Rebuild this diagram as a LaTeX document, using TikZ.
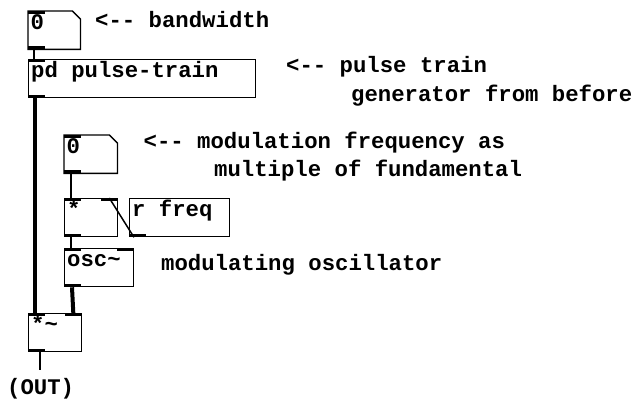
\documentclass[tikz,border=0pt]{standalone}
\usepackage{fontspec}
\setmainfont{Liberation Mono}
\newfontfamily\pdfont{Liberation Mono}[WordSpace={1,0,0}]
\usetikzlibrary{calc}
\newcommand\pdlabel[2]{\makebox[#1][l]{#2}}
\tikzset{
  pdtext/.style={font=\pdfont\bfseries\fontsize{22.3}{26}\selectfont},
  objbox/.style={pdtext, draw, line width=1.3pt, anchor=north west, inner xsep=2.5pt, inner ysep=0pt, text height=18pt, text depth=20pt},
  numbox/.style={pdtext, anchor=north west, inner xsep=2.5pt, inner ysep=0pt, text height=18pt, text depth=20pt},
  numoutline/.style={line width=1.3pt},
  comment/.style={pdtext, anchor=base west, inner sep=0pt},
  ctl/.style={line width=1.5pt},
  sig/.style={line width=4pt},
  iolet/.style={fill=black},
}
\begin{document}
\begin{tikzpicture}[x=1pt,y=-1pt]
\useasboundingbox (0,0) rectangle (641,401);

% number box 1
\node[numbox] (nb1) at (28,11) {\pdlabel{47pt}{0}};
\draw[numoutline] (nb1.north west) -- ($(nb1.north east)+(-8,0)$) -- ($(nb1.north east)+(0,8)$) -- (nb1.south east) -- (nb1.south west) -- cycle;
\fill[iolet] (nb1.north west) rectangle ++(17,3);
\fill[iolet] (nb1.south west) rectangle ++(17,-3);

% pd pulse-train
\node[objbox] (pd) at (28,59) {\pdlabel{222pt}{pd pulse-train}};
\fill[iolet] (pd.north west) rectangle ++(17,3);
\fill[iolet] (pd.south west) rectangle ++(17,-3);

% number box 2
\node[numbox] (nb2) at (64,135) {\pdlabel{48pt}{0}};
\draw[numoutline] (nb2.north west) -- ($(nb2.north east)+(-8,0)$) -- ($(nb2.north east)+(0,8)$) -- (nb2.south east) -- (nb2.south west) -- cycle;
\fill[iolet] (nb2.north west) rectangle ++(17,3);
\fill[iolet] (nb2.south west) rectangle ++(17,-3);

% * box
\node[objbox] (mul) at (64,198) {\pdlabel{48pt}{*}};
\fill[iolet] (mul.north west) rectangle ++(17,3);
\fill[iolet] (mul.north east) rectangle ++(-17,3);
\fill[iolet] (mul.south west) rectangle ++(17,-3);

% r freq
\node[objbox] (rfreq) at (129,198) {\pdlabel{95pt}{r freq}};
\fill[iolet] (rfreq.south west) rectangle ++(17,-3);

% osc~
\node[objbox] (osc) at (64,248) {\pdlabel{64pt}{osc\char`~}};
\fill[iolet] (osc.north west) rectangle ++(17,3);
\fill[iolet] (osc.north east) rectangle ++(-17,3);
\fill[iolet] (osc.south west) rectangle ++(17,-3);

% *~
\node[objbox] (sigmul) at (28,313) {\pdlabel{48pt}{*\char`~}};
\fill[iolet] (sigmul.north west) rectangle ++(17,3);
\fill[iolet] (sigmul.north east) rectangle ++(-17,3);
\fill[iolet] (sigmul.south west) rectangle ++(17,-3);

% connections
\draw[ctl] ($(nb1.south west)+(6,0)$) -- ($(pd.north west)+(6,0)$);
\draw[sig] ($(pd.south west)+(7,0)$) -- ($(sigmul.north west)+(7,0)$);
\draw[ctl] ($(nb2.south west)+(7,0)$) -- ($(mul.north west)+(7,0)$);
\draw[ctl] ($(rfreq.south west)+(5,0)$) -- ($(mul.north east)+(-9,0)$);
\draw[ctl] ($(mul.south west)+(7,0)$) -- ($(osc.north west)+(7,0)$);
\draw[sig] ($(osc.south west)+(8,0)$) -- ($(sigmul.north east)+(-9,0)$);
\coordinate (out) at (40,370);
\draw[ctl] ($(sigmul.south west)+(12,0)$) -- (out);

% comments
\node[comment] (c1) at (95,28) {<-{}- bandwidth};
\node[comment] (c2) at (286,73) {<-{}- pulse train};
\node[comment] (c3) at (351,102) {generator from before};
\node[comment] (c4) at (143.5,149) {<-{}- modulation frequency as};
\node[comment] (c5) at (214,177) {multiple of fundamental};
\node[comment] (c6) at (161,271) {modulating oscillator};
\node[comment] (c7) at (7,395) {(OUT)};
\end{tikzpicture}
\end{document}
